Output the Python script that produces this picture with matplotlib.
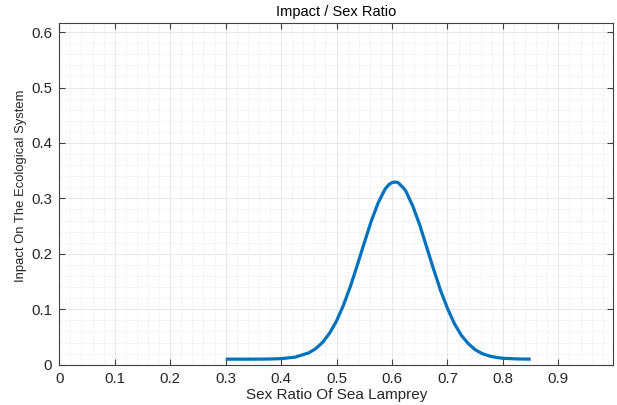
import matplotlib
matplotlib.use("Agg")
import matplotlib.pyplot as plt
from matplotlib.ticker import MultipleLocator

sex_ratio = [0.30, 0.325, 0.35, 0.375, 0.40, 0.425, 0.45, 0.4625, 0.475, 0.4875,
             0.50, 0.5125, 0.525, 0.5375, 0.55, 0.5625, 0.575, 0.5875, 0.595, 0.60,
             0.605, 0.61, 0.6125, 0.62, 0.625, 0.6375, 0.65, 0.6625, 0.675, 0.6875,
             0.70, 0.7125, 0.725, 0.7375, 0.75, 0.7625, 0.775, 0.7875, 0.80, 0.825, 0.85]
impact = [0.010, 0.010, 0.010, 0.0102, 0.0109, 0.0136, 0.0214, 0.029, 0.0405, 0.057,
          0.079, 0.1076, 0.1415, 0.180, 0.220, 0.259, 0.292, 0.317, 0.3255, 0.3285,
          0.3295, 0.329, 0.327, 0.3195, 0.313, 0.286, 0.252, 0.212, 0.172, 0.134,
          0.1015, 0.074, 0.053, 0.038, 0.027, 0.020, 0.0158, 0.0132, 0.0116, 0.0104, 0.010]

x_ticks = [0, 0.1, 0.2, 0.3, 0.4, 0.5, 0.6, 0.7, 0.8, 0.9]
x_tick_labels = ["0", "0.1", "0.2", "0.3", "0.4", "0.5", "0.6", "0.7", "0.8", "0.9"]
y_ticks = [0, 0.1, 0.2, 0.3, 0.4, 0.5, 0.6]
y_tick_labels = ["0", "0.1", "0.2", "0.3", "0.4", "0.5", "0.6"]

plt.rcParams['font.family'] = ['Liberation Sans', 'DejaVu Sans']

fig = plt.figure(figsize=(6.17, 4.05), dpi=100)
ax = fig.add_axes([59.3/617, 1-364.7/405, (613.3-59.3)/617, (364.7-22.7)/405])

ax.plot(sex_ratio, impact, color='#0072BD', linewidth=2.3, solid_capstyle='butt', zorder=3)

ax.set_xlim(0, 0.999)
ax.set_ylim(0, 0.617)
ax.set_xticks(x_ticks)
ax.set_xticklabels(x_tick_labels)
ax.set_yticks(y_ticks)
ax.set_yticklabels(y_tick_labels)
ax.xaxis.set_minor_locator(MultipleLocator(0.02))
ax.yaxis.set_minor_locator(MultipleLocator(0.02))

ax.grid(which='major', color='#e4e4e4', linestyle='-', linewidth=0.6)
ax.grid(which='minor', color='#e2e2e2', linestyle=':', linewidth=0.6)
ax.set_axisbelow(True)

txt = '#262626'
ax.tick_params(which='major', direction='in', length=4, width=0.8, color='#404040',
               labelcolor=txt, labelsize=10.8, top=True, right=True, pad=5)
ax.tick_params(which='minor', length=0, top=True, right=True)
for s in ax.spines.values():
    s.set_color('#404040')
    s.set_linewidth(0.8)

ax.set_title('Impact / Sex Ratio', fontsize=10.5, color='black', pad=5)
ax.set_xlabel('Sex Ratio Of Sea Lamprey', fontsize=11, color=txt, labelpad=2)
ax.set_ylabel('Inpact On The Ecological System', fontsize=9.4, color=txt)
ax.yaxis.set_label_coords(-0.0583, 0.5225)

fig.savefig('out.png', dpi=100)
